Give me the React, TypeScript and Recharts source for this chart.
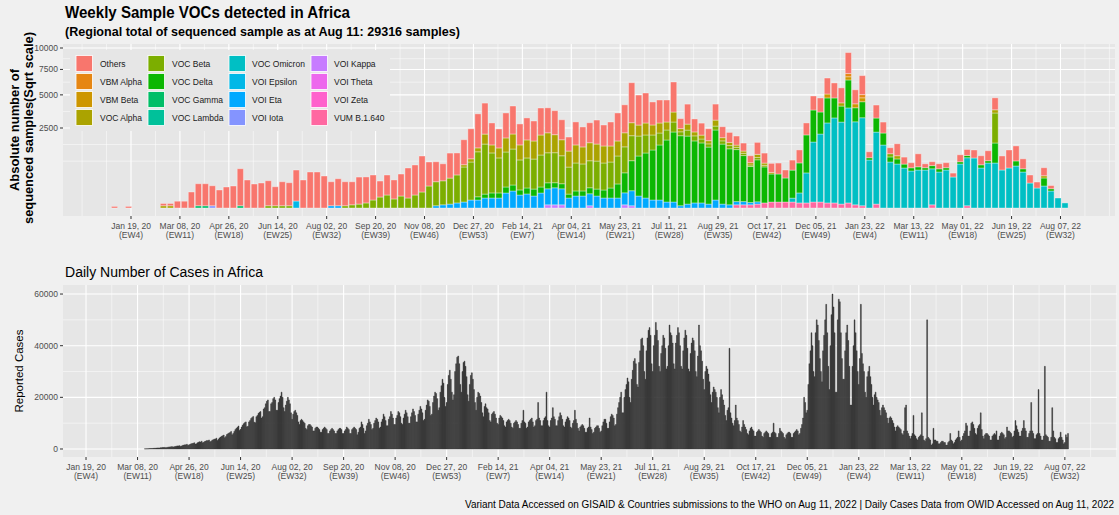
import React from 'react';
import { Bar, BarChart, CartesianGrid, XAxis, YAxis } from 'recharts';

document.body.style.margin = '0';
document.body.style.background = '#f0f0f0';

const PAGE_BG = '#f0f0f0';
const PANEL_BG = '#e6e6e6';
const FONT = '"Liberation Sans", Arial, Helvetica, sans-serif';

// x positions are counted from the week of Jan 19, 2020 (EW4)
const tickWeekOffsets = [0, 7, 14, 21, 28, 35, 42, 49, 56, 63, 70, 77, 84, 91, 98, 105, 112, 119, 126, 133];
const tickDates = [
  'Jan 19, 20', 'Mar 08, 20', 'Apr 26, 20', 'Jun 14, 20', 'Aug 02, 20', 'Sep 20, 20', 'Nov 08, 20',
  'Dec 27, 20', 'Feb 14, 21', 'Apr 04, 21', 'May 23, 21', 'Jul 11, 21', 'Aug 29, 21', 'Oct 17, 21',
  'Dec 05, 21', 'Jan 23, 22', 'Mar 13, 22', 'May 01, 22', 'Jun 19, 22', 'Aug 07, 22',
];
const tickEpiWeeks = [
  '(EW4)', '(EW11)', '(EW18)', '(EW25)', '(EW32)', '(EW39)', '(EW46)', '(EW53)', '(EW7)', '(EW14)',
  '(EW21)', '(EW28)', '(EW35)', '(EW42)', '(EW49)', '(EW4)', '(EW11)', '(EW18)', '(EW25)', '(EW32)',
];

const variantNames = [
  'Others', 'VBM Alpha', 'VBM Beta', 'VOC Alpha', 'VOC Beta', 'VOC Delta', 'VOC Gamma', 'VOC Lambda',
  'VOC Omicron', 'VOI Epsilon', 'VOI Eta', 'VOI Iota', 'VOI Kappa', 'VOI Theta', 'VOI Zeta', 'VUM B.1.640',
];
const variantColors = [
  '#F8766D', '#E68613', '#CD9600', '#ABA300', '#7CAE00', '#0CB702', '#00BE67', '#00C19A',
  '#00BFC4', '#00B8E7', '#00A9FF', '#8494FF', '#C77CFF', '#ED68ED', '#FF61CC', '#FF68A1',
];

// weekly sequenced samples: [first week, counts...]
type Run = [number, number[]];
const othersRuns: Run[] = [
  [-3, [1, 0, 1]],
  [4, [
    2, 2, 18, 18, 100, 189, 189, 156, 127, 172,
    189, 535, 306, 225, 244, 244, 141, 225, 207, 375,
    306, 506, 506, 400, 225, 285, 225, 207, 285, 264,
    244, 100, 156, 141, 189, 352, 352, 506, 225, 156,
    113, 244, 189, 244, 352, 452, 375, 189, 141, 244,
    306, 172, 189, 156, 285, 244, 225, 156, 77, 207,
    156, 156, 225, 172, 225, 306, 306, 625, 352, 352,
    207, 207, 189, 352, 39, 156, 66, 56, 56, 100,
    47, 39, 32, 25, 19, 56, 39, 32, 47, 25,
    39, 66, 56, 77, 77, 100, 88, 88, 172, 77,
    141, 14, 66, 47, 14, 56, 19, 10, 66, 6,
    6, 10, 10, 6, 19, 14, 25, 32, 39, 56,
    77, 127, 88, 39, 25, 14, 25, 4,
  ]],
];
const vbmAlphaRuns: Run[] = [[102, [4]], [104, [4]]];
const vbmBetaRuns: Run[] = [[99, [6]], [102, [4, 6, 6]]];
const vocAlphaRuns: Run[] = [
  [4, [2, 2]],
  [47, [
    2, 4, 6, 39, 25, 39, 77, 88, 88, 127,
    127, 156, 156, 127, 100, 100, 127, 113, 127, 113,
    113, 100, 88, 77, 66, 47, 56, 39, 39, 25,
    39, 4, 14, 6, 6, 4, 14, 4, 4, 2,
    2, 2, 4, 2, 1,
  ]],
  [101, [4]], [109, [4]], [123, [4]], [130, [2]],
];
const vocBetaRuns: Run[] = [
  [19, [2, 2, 2, 2]],
  [30, [
    2, 4, 6, 10, 25, 47, 66, 32, 56, 39,
    66, 100, 189, 225, 225, 264, 306, 479, 564, 791,
    977, 625, 479, 479, 506, 352, 352, 352, 400, 352,
    352, 306, 285, 306, 285, 285, 306, 285, 264, 306,
    264, 244, 156, 127, 88, 56, 39, 39, 6, 14,
    10, 6, 4, 6, 4, 4, 2, 2, 1, 2, 1,
  ]],
  [108, [4]], [123, [352]],
];
const vocDeltaRuns: Run[] = [
  [49, [
    4, 6, 10, 10, 14, 14, 10, 14, 19, 14,
    14, 10, 10, 6, 10, 10, 14, 19, 25, 39,
    77, 156, 352, 625, 791, 977, 1182, 1502, 1914, 1914,
    1806, 1502, 1406, 1269, 1914, 1406, 1225, 1056, 827, 506,
    689, 506, 306, 306, 225, 306, 352, 564, 400, 189,
    244, 156, 100, 306, 77, 100, 2, 77, 56, 10,
    10, 6, 4, 4, 2, 4, 4, 2, 0, 2,
    2, 0, 4, 2, 156, 0, 0, 10, 4, 0,
    0, 25, 2,
  ]],
];
const vocGammaRuns: Run[] = [[9, [2, 2]], [15, [2]]];
const vocLambdaRuns: Run[] = [];
const vocOmicronRuns: Run[] = [
  [94, [
    6, 39, 352, 1406, 1806, 2500, 2822, 2627, 3525, 2691,
    3025, 900, 2025, 1550, 827, 756, 625, 535, 564, 564,
    506, 506, 564, 375, 756, 900, 977, 625, 791, 791,
    564, 625, 689, 506, 244, 156, 189, 113, 39, 10,
  ]],
];
const voiEpsilonRuns: Run[] = [[23, [19]]];
const voiEtaRuns: Run[] = [
  [28, [2, 2]],
  [43, [
    2, 4, 6, 10, 14, 25, 25, 39, 39, 39,
    88, 113, 66, 77, 56, 88, 100, 113, 100, 39,
    56, 56, 56, 56, 39, 39, 39, 56, 88, 56,
    39, 25, 25, 14, 14, 2, 6, 10, 10, 6,
    25, 6, 4, 4, 4, 2, 2,
  ]],
];
const voiIotaRuns: Run[] = [[11, [2]]];
const voiKappaRuns: Run[] = [[59, [4, 4, 4]], [65, [2]], [70, [4, 2]]];
const voiThetaRuns: Run[] = [];
const voiZetaRuns: Run[] = [];
const vumRuns: Run[] = [
  [86, [4, 4, 4, 6, 10, 14, 14, 14, 14, 10, 10, 14, 14, 10, 10, 6, 10, 4, 2]],
  [106, [6]], [114, [4]], [119, [2]],
];

const variantRuns: Run[][] = [
  othersRuns, vbmAlphaRuns, vbmBetaRuns, vocAlphaRuns, vocBetaRuns, vocDeltaRuns, vocGammaRuns, vocLambdaRuns,
  vocOmicronRuns, voiEpsilonRuns, voiEtaRuns, voiIotaRuns, voiKappaRuns, voiThetaRuns, voiZetaRuns, vumRuns,
];

const sampleTicks = [2500, 5000, 7500, 10000];

// daily reported cases (thousands), first value = Mar 15, 2020
const CASES_FIRST_DAY = 56;
const dailyCasesK = [
  0.05, 0.05, 0.1, 0.1, 0.15, 0.2, 0.2,
  0.2, 0.25, 0.3, 0.3, 0.35, 0.4, 0.4,
  0.4, 0.5, 0.5, 0.6, 0.6, 0.6, 0.5,
  0.6, 0.7, 0.8, 0.8, 0.9, 0.9, 0.8,
  0.9, 1, 1.1, 1.2, 1.2, 1.3, 1,
  1.2, 1.4, 1.5, 1.6, 1.6, 1.8, 1.4,
  1.6, 1.8, 2, 2.1, 2.2, 2.4, 1.9,
  2, 2.4, 2.6, 2.8, 2.7, 3, 2.4,
  2.6, 2.9, 3.1, 3.3, 3.2, 3.5, 2.8,
  3, 3.4, 3.6, 3.8, 3.9, 4.2, 3.3,
  3.8, 4.3, 4.6, 4.9, 5.1, 5.4, 4.4,
  4.8, 5.6, 5.9, 6.2, 6.4, 6.8, 5.5,
  6, 6.8, 7.5, 8, 8.4, 8.9, 7.2,
  7.6, 8.5, 9.2, 9.8, 10.2, 10.5, 8.6,
  8.8, 10.5, 11, 11.8, 12.2, 12.6, 10.4,
  10.2, 12.5, 13, 13.8, 14.2, 14.5, 12,
  12.5, 15.5, 16, 17.5, 18.5, 19, 14.5,
  14.5, 17.5, 18, 19.5, 20, 19, 15,
  15, 18, 19.5, 20.5, 22, 20, 16,
  14.5, 17, 18.5, 20, 19, 17.5, 14,
  11.5, 13.5, 14.5, 15, 14, 13, 10.5,
  9.5, 11, 11.5, 11, 10.5, 10, 8,
  7.5, 9, 9.5, 9.5, 9, 8.5, 7,
  7, 8, 8.5, 8.5, 8, 7.5, 6.5,
  6.5, 7.5, 8, 8.5, 8, 7.5, 6,
  6, 7, 7.5, 8, 7.5, 7, 6,
  6, 7, 7.5, 8, 8, 7.5, 6,
  6, 7, 7.5, 8.5, 8, 7.5, 6,
  6, 7.5, 8, 8.5, 8, 7.5, 5.5,
  6.5, 8, 8.5, 10.5, 9.5, 8, 6,
  7, 9, 10, 11.5, 10.5, 9.5, 7.5,
  8, 10, 11, 12, 11.5, 10.5, 8,
  8.5, 10.5, 11.5, 13.5, 12.5, 11, 9,
  9, 11.5, 12.5, 14.5, 13.5, 12, 9.5,
  9.5, 12, 13, 14.5, 14, 12.5, 10,
  9.5, 12, 13.5, 15, 14, 12.5, 10,
  10, 12.5, 14, 15.5, 14.5, 13, 10.5,
  10.5, 13.5, 15, 16.5, 15.5, 14, 11,
  11.5, 15, 17, 19, 18.5, 16.5, 13,
  13.5, 18, 20.5, 22, 21.5, 19.5, 15,
  16, 22, 24.5, 27, 25.5, 20, 16.5,
  18, 25, 28.5, 30.5, 27, 22, 19,
  21, 30, 33, 35.5, 36, 33, 25,
  22, 30, 33.5, 34, 32, 28, 21,
  18.5, 25, 28.5, 29.5, 27, 23, 18,
  15, 20, 22, 21.5, 20.5, 18, 14,
  12.5, 16.5, 17.5, 16, 15.5, 14, 11,
  10.5, 13.5, 14, 14.5, 13.5, 12, 10,
  9.5, 12, 13, 12.5, 12, 11, 9,
  8.5, 10.5, 11, 11.5, 11, 10, 8.5,
  8, 10, 10.5, 11, 10.5, 9.5, 8,
  8, 10, 11, 15, 10.5, 10, 8,
  8.5, 10.5, 11, 11.5, 12, 10.5, 8.5,
  9, 11, 11.5, 18, 12, 11, 9,
  9, 11, 12, 12.5, 22, 11, 9,
  8.5, 11, 12, 16, 12.5, 11.5, 9,
  9, 11, 12.5, 14, 13, 11.5, 9,
  8.5, 10.5, 11.5, 12.5, 12, 11, 8.5,
  8, 10, 11, 15, 11.5, 10, 8,
  7, 8.5, 9, 9.5, 9, 8, 6.5,
  6.5, 8, 8.5, 12, 8.5, 7.5, 6,
  6.5, 8, 8.5, 9, 9, 8, 6.5,
  7, 9, 10.5, 11.5, 11.5, 10, 8,
  8, 10.5, 12.5, 13.5, 13, 12, 9,
  9.5, 13.5, 16, 18, 20, 22, 14,
  14, 20, 23, 25, 27.5, 26, 20,
  18, 27, 30.5, 34, 35, 33, 25,
  24, 33.5, 38, 42.5, 43, 40, 30,
  27, 38, 43, 46, 47, 44, 33,
  30, 40, 44, 49, 46, 42, 32,
  30, 37, 40, 44, 43, 39, 31,
  32, 40, 48, 45, 44, 41, 33,
  31, 41, 44, 47, 45, 40, 32,
  31, 38, 43, 46, 44, 39, 31,
  30, 37, 41, 43, 42, 38, 30,
  28, 36, 48, 40, 38, 34, 27,
  23, 30, 32, 31, 29, 26, 21,
  18, 22, 24, 23, 22, 20, 16,
  14, 20, 23, 21, 19, 17, 13,
  11, 15, 16, 39, 14, 12, 10,
  9, 11, 17, 12, 11, 9.5, 7,
  6.5, 8.5, 11, 9.5, 8.5, 7.5, 6,
  5.5, 7, 8, 8.5, 7.5, 7, 5,
  5, 6.5, 7, 7.5, 7, 6.5, 5,
  4.5, 6, 6.5, 7, 6.5, 6, 4.5,
  4.5, 6, 6.5, 10, 6.5, 6, 4.5,
  4.5, 6, 8, 7, 6.5, 6, 4.5,
  4, 5.5, 6, 6.5, 6.5, 6, 4.5,
  4.5, 6, 6.5, 7, 7.5, 7, 5.5,
  6, 8, 9.5, 12, 20, 18, 14,
  15, 25, 33, 38, 45, 40, 30,
  28, 45, 50, 48, 42, 35, 30,
  26, 38, 44, 50, 56, 45, 32,
  23, 40, 52, 60, 55, 45, 22,
  22, 50, 58, 57, 45, 35, 27,
  27, 38, 45, 48, 42, 32, 17,
  17, 32, 40, 50, 45, 38, 30,
  25, 35, 56, 37, 33, 30, 22,
  20, 28, 30, 32, 28, 25, 20,
  17, 21, 22, 20, 19, 18, 15,
  13, 16, 17, 16, 15, 14, 12,
  10, 12, 12.5, 12, 11, 10, 8.5,
  7, 8.5, 9, 8.5, 8, 7.5, 6,
  5.5, 7, 16, 17, 7, 6, 5,
  4, 5, 6, 13, 5.5, 5, 4,
  3.5, 4.5, 5, 5.5, 14, 5, 3.5,
  3, 4, 50, 4.5, 4, 3.5, 1.5,
  2, 8, 3.5, 3.5, 3, 3, 2,
  2, 2.5, 3, 3, 2.5, 2.5, 1.5,
  1.5, 2.5, 3, 6, 3.5, 3, 2,
  2.5, 3.5, 4, 4.5, 7, 4.5, 3,
  3.5, 5, 6, 7, 10, 9, 5,
  5, 7, 10, 10.5, 9.5, 8, 6,
  5.5, 8, 9, 9.5, 14, 7.5, 5,
  4, 5.5, 6, 6, 5.5, 5, 3.5,
  3.5, 5, 5.5, 6, 5.5, 7, 3.5,
  3.5, 5, 6, 6.5, 6, 5.5, 4,
  4.5, 8.5, 7, 7, 6.5, 6, 4.5,
  5, 7, 11, 9, 7.5, 6.5, 5,
  5, 7, 8, 11, 8, 7, 4.5,
  4.5, 6, 7, 18, 7, 6, 4,
  4, 5.5, 6, 23, 6, 5, 3.5,
  3.5, 5, 32, 5.5, 5, 4.5, 3,
  3, 4.5, 16, 7, 4.5, 4, 2.5,
  2.5, 4, 4.5, 6.5, 4.5, 3.5, 2,
  2.5, 5.5, 4.5, 6,
];
const caseTicks = [0, 20000, 40000, 60000];

// ---- build rows ----
const countAt = (runs: Run[], week: number) => {
  for (const [from, counts] of runs) {
    const k = week - from;
    if (k >= 0 && k < counts.length) return counts[k];
  }
  return 0;
};

const weeklyRows: Record<string, number>[] = [];
for (let w = -3; w <= 133; w++) {
  const row: Record<string, number> = { week: w + 0.7 };
  variantRuns.forEach((runs, k) => {
    row[`v${k}`] = Math.sqrt(countAt(runs, w)); // sqrt scale, stacked like ggplot
  });
  weeklyRows.push(row);
}

const dailyRows = dailyCasesK.map((c, k) => ({ day: CASES_FIRST_DAY + k, cases: c * 1000 }));

// ---- axes / grid ----
const TOP_X: [number, number] = [-9.73, 140.8];
const TOP_Y: [number, number] = [-5, 102.5];
const BOT_X: [number, number] = [-21.9, 980.6];
const BOT_Y: [number, number] = [-3100, 63500];

const topMajorY = sampleTicks.map(Math.sqrt);
const extY = [2 * topMajorY[0] - topMajorY[1], ...topMajorY];
const topMinorY = [extY[0], ...extY.slice(1).map((v, i) => (v + extY[i]) / 2)];
const topMinorX = [-7, ...tickWeekOffsets.map((t) => t - 3.5), 136.5, 140];
const dayTicks = tickWeekOffsets.map((t) => t * 7);
const botMinorX = [...dayTicks.slice(1).map((t) => t - 24.5), 955.5, 980];
const botMinorY = [10000, 30000, 50000];

const xGrid = (vals: number[], dom: [number, number]) => ({ offset }: any) =>
  vals.map((v) => offset.left + ((v - dom[0]) / (dom[1] - dom[0])) * offset.width);
const yGrid = (vals: number[], dom: [number, number]) => ({ offset }: any) =>
  vals.map((v) => offset.top + ((dom[1] - v) / (dom[1] - dom[0])) * offset.height);

const dateTick = (per: number) => (props: any) => {
  const { x, y, payload } = props;
  const i = Math.round(payload.value / per);
  return (
    <g transform={`translate(${x},${y})`}>
      <text textAnchor="middle" fontSize={8.5} fill="#4d4d4d" fontFamily={FONT}>
        <tspan x={0} dy={9.5}>{tickDates[i]}</tspan>
        <tspan x={0} dy={9.5}>{tickEpiWeeks[i]}</tspan>
      </text>
    </g>
  );
};

const legendKeyX = [76, 148, 229, 311];
const legendTextX = [100, 172, 252, 334];

export default function App() {
  const stackOrder = variantNames.map((_, k) => k).reverse();
  return (
    <div style={{ position: 'relative', width: 1119, height: 515, background: PAGE_BG, fontFamily: FONT, overflow: 'hidden' }}>
      <div style={{ position: 'absolute', left: 0, top: 0 }}>
        <BarChart width={1119} height={250} data={weeklyRows} margin={{ top: 44, right: 4, bottom: 0, left: 0 }} barSize={6.2}>
          <CartesianGrid fill={PANEL_BG} stroke="#ffffff" strokeWidth={0.5}
            horizontalCoordinatesGenerator={yGrid(topMinorY, TOP_Y)}
            verticalCoordinatesGenerator={xGrid(topMinorX, TOP_X)} />
          <CartesianGrid stroke="#ffffff" strokeWidth={1.1}
            horizontalCoordinatesGenerator={yGrid(topMajorY, TOP_Y)}
            verticalCoordinatesGenerator={xGrid(tickWeekOffsets, TOP_X)} />
          <XAxis type="number" dataKey="week" domain={TOP_X} allowDataOverflow ticks={tickWeekOffsets} interval={0}
            height={34} tickSize={3} tickMargin={0} axisLine={false} tickLine={{ stroke: '#333333' }} tick={dateTick(7)} />
          <YAxis type="number" domain={TOP_Y} allowDataOverflow ticks={topMajorY} interval={0} width={63}
            tickSize={3} tickMargin={2} axisLine={false} tickLine={{ stroke: '#333333' }}
            tick={{ fontSize: 8.5, fill: '#4d4d4d' }} tickFormatter={(v: number) => String(Math.round(v * v))} />
          {stackOrder.map((k) => (
            <Bar key={k} dataKey={`v${k}`} stackId="voc" fill={variantColors[k]} stroke="#ffffff" strokeWidth={0.35}
              isAnimationActive={false} />
          ))}
        </BarChart>
      </div>

      <div style={{ position: 'absolute', left: 0, top: 250 }}>
        <BarChart width={1119} height={265} data={dailyRows} margin={{ top: 35, right: 2, bottom: 0, left: 0 }}>
          <CartesianGrid fill={PANEL_BG} stroke="#ffffff" strokeWidth={0.5}
            horizontalCoordinatesGenerator={yGrid(botMinorY, BOT_Y)}
            verticalCoordinatesGenerator={xGrid(botMinorX, BOT_X)} />
          <CartesianGrid stroke="#ffffff" strokeWidth={1.1}
            horizontalCoordinatesGenerator={yGrid(caseTicks, BOT_Y)}
            verticalCoordinatesGenerator={xGrid(dayTicks, BOT_X)} />
          <XAxis type="number" dataKey="day" domain={BOT_X} allowDataOverflow ticks={dayTicks} interval={0}
            height={58} tickSize={3} tickMargin={0} axisLine={false} tickLine={{ stroke: '#333333' }} tick={dateTick(49)} />
          <YAxis type="number" domain={BOT_Y} allowDataOverflow ticks={caseTicks} interval={0} width={63}
            tickSize={3} tickMargin={2} axisLine={false} tickLine={{ stroke: '#333333' }}
            tick={{ fontSize: 8.5, fill: '#4d4d4d' }} />
          <Bar dataKey="cases" fill="#2e2e2e" stroke="#2e2e2e" strokeWidth={0.45} isAnimationActive={false} />
        </BarChart>
      </div>

      <svg width={1119} height={515} style={{ position: 'absolute', left: 0, top: 0, pointerEvents: 'none' }} fontFamily={FONT}>
        <text x={65} y={18} fontSize={16} fontWeight="bold" fill="#000" textLength={285} lengthAdjust="spacingAndGlyphs">
          Weekly Sample VOCs detected in Africa
        </text>
        <text x={65} y={36} fontSize={13} fontWeight="bold" fill="#000" textLength={395} lengthAdjust="spacingAndGlyphs">
          (Regional total of sequenced sample as at Aug 11: 29316 samples)
        </text>
        <text transform="translate(19,130) rotate(-90)" textAnchor="middle" fontSize={13} fontWeight="bold" fill="#000"
          textLength={122} lengthAdjust="spacingAndGlyphs">
          Absolute number of
        </text>
        <text transform="translate(33,128) rotate(-90)" textAnchor="middle" fontSize={13} fontWeight="bold" fill="#000"
          textLength={192} lengthAdjust="spacingAndGlyphs">
          sequenced samples(Sqrt scale)
        </text>

        <rect x={70} y={50} width={320} height={81} fill={PANEL_BG} />
        {variantNames.map((name, i) => {
          const c = Math.floor(i / 4);
          const r = i % 4;
          const y = 55.5 + r * 18;
          return (
            <g key={name}>
              <rect x={legendKeyX[c]} y={y} width={16.5} height={16} fill={variantColors[i]} stroke="#ffffff" strokeWidth={0.8} />
              <text x={legendTextX[c]} y={y + 11} fontSize={8.5} fill="#1a1a1a">{name}</text>
            </g>
          );
        })}

        <text x={65} y={277} fontSize={14} fill="#000" textLength={198} lengthAdjust="spacingAndGlyphs">
          Daily Number of Cases in Africa
        </text>
        <text transform="translate(23,371) rotate(-90)" textAnchor="middle" fontSize={11.5} fill="#000"
          textLength={83} lengthAdjust="spacingAndGlyphs">
          Reported Cases
        </text>
        <text x={465} y={508} fontSize={10} fill="#000" textLength={649} lengthAdjust="spacingAndGlyphs">
          Variant Data Accessed on GISAID &amp; Countries submissions to the WHO on Aug 11, 2022 | Daily Cases Data from OWID Accessed on  Aug 11, 2022
        </text>
      </svg>
    </div>
  );
}
